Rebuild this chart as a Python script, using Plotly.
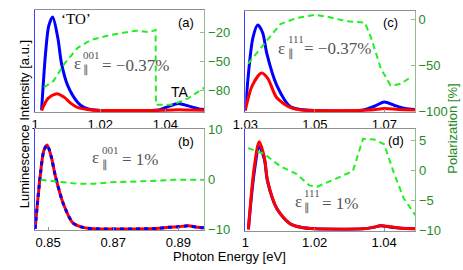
import plotly.graph_objects as go

# ---------------- data ----------------
# panel (a): eps001 = -0.37%
a_x_blue = [1.002, 1.0032, 1.0042, 1.0054, 1.007, 1.0081, 1.010, 1.0131, 1.015, 1.017, 1.02, 1.035, 1.038, 1.041, 1.044, 1.047, 1.050, 1.052]
a_blue = [0, 0.56, 0.84, 0.93, 0.72, 0.47, 0.25, 0.08, 0.03, 0.01, 0, 0, 0.005, 0.04, 0.07, 0.045, 0.018, 0.01]
a_x_red = [1.002, 1.004, 1.0067, 1.009, 1.011, 1.013, 1.016, 1.02, 1.04, 1.044, 1.048, 1.052]
a_red = [0, 0.12, 0.167, 0.13, 0.07, 0.03, 0.01, 0.0, 0.003, 0.006, 0.004, 0.003]
a_x_pol = [1.0027, 1.0057, 1.0091, 1.0131, 1.0171, 1.023, 1.031, 1.035, 1.037, 1.0371, 1.042, 1.047, 1.052]
a_pol = [-76.8, -70, -52, -36, -28, -23, -18.4, -20, -17.6, -94.7, -94.7, -88, -77]

# panel (c): eps111 = -0.37%
c_x_blue = [1.03, 1.0322, 1.0336, 1.035, 1.0362, 1.039, 1.0429, 1.046, 1.05, 1.064, 1.067, 1.07, 1.073, 1.076, 1.0788]
c_blue = [0, 0.73, 0.857, 0.78, 0.57, 0.257, 0.04, 0.01, 0, 0.005, 0.04, 0.085, 0.05, 0.02, 0.01]
c_x_red = [1.03, 1.032, 1.0347, 1.0365, 1.039, 1.0429, 1.046, 1.05, 1.066, 1.07, 1.074, 1.0788]
c_red = [0, 0.25, 0.375, 0.32, 0.13, 0.03, 0.005, 0, 0.005, 0.02, 0.01, 0.005]
c_x_pol = [1.0308, 1.0354, 1.0401, 1.0448, 1.05, 1.0541, 1.0588, 1.0644, 1.0662, 1.069, 1.0718, 1.0746, 1.078]
c_pol = [-48, -27, -5, 1.7, 5, 2.6, -1.7, -3.4, -20, -53, -71.7, -70, -61.7]

# panel (b): eps001 = 1%
b_x = [0.846, 0.8477, 0.8487, 0.8497, 0.851, 0.8522, 0.8547, 0.8576, 0.8601, 0.863, 0.883, 0.887, 0.890, 0.893, 0.896, 0.898]
b_int = [0, 0.566, 0.786, 0.842, 0.72, 0.535, 0.25, 0.06, 0.02, 0.003, 0.003, 0.015, 0.02, 0.03, 0.015, 0.01]
b_x_pol = [0.8477, 0.8505, 0.8592, 0.8642, 0.8692, 0.879, 0.8888, 0.898]
b_pol = [0, -0.2, -0.8, -0.8, -0.5, -0.3, 0, 0]

# panel (d): eps111 = 1%
d_x = [1.0009, 1.0025, 1.004, 1.0055, 1.0064, 1.0092, 1.0129, 1.016, 1.02, 1.034, 1.037, 1.039, 1.042, 1.045, 1.049]
d_blue = [0, 0.55, 0.825, 0.7, 0.48, 0.2, 0.056, 0.02, 0.005, 0.005, 0.02, 0.035, 0.02, 0.01, 0.005]
d_red = [0, 0.6, 0.876, 0.72, 0.49, 0.2, 0.056, 0.02, 0.005, 0.005, 0.02, 0.035, 0.025, 0.01, 0.005]
d_x_pol = [1.0008, 1.0054, 1.0101, 1.0148, 1.0185, 1.0208, 1.026, 1.031, 1.0339, 1.0371, 1.04, 1.0428, 1.0456, 1.049]
d_pol = [3.74, 2.8, 0.7, -0.6, -2.5, -2.7, -1.4, -0.1, 5.3, 5.2, 4.4, -0.4, -4.6, -7.5]

# tick values
a_xticks = [1, 1.02, 1.04]
c_xticks = [1.03, 1.05, 1.07]
b_xticks = [0.85, 0.87, 0.89]
d_xticks = [1, 1.02, 1.04]
a_pticks = [-20, -50, -80]
c_pticks = [0, -50, -100]
b_pticks = [10, 0, -10]
d_pticks = [5, 0, -5, -10]

# strain labels: (direction superscript, value text)
strain_labels = {"a": ("001", "= \u22120.37%"), "c": ("111", "= \u22120.37%"),
                 "b": ("001", "= 1%"), "d": ("111", "= 1%")}

# ---------------- styles ----------------
W, H = 463, 270
BLUE = "#0000ff"
RED = "#ff0000"
LIME = "#22ee22"
DKGREEN = "#1f8b1f"
SPINE_G = "#8fbf8f"
GRAY = "#909090"
SANS = "Liberation Sans, Arial, sans-serif"
SERIF = "Liberation Serif, Times New Roman, serif"


def px_x(p):
    return p / W


def px_y(p):
    return 1 - p / H


fig = go.Figure()

panels = [
    ("a", "x", "y", "y2", (22.7, 197), (3, 110.7)),
    ("c", "x2", "y3", "y4", (239, 413.5), (4, 110.7)),
    ("b", "x3", "y5", "y6", (22.7, 197), (129, 235.5)),
    ("d", "x4", "y7", "y8", (239, 414), (129, 236)),
]

lw = 3


def add_line(x, y, xa, ya, color, dash=None, width=lw, shape="spline"):
    fig.add_trace(go.Scatter(x=x, y=y, xaxis=xa, yaxis=ya, mode="lines",
                             line=dict(color=color, width=width, dash=dash, shape=shape, smoothing=0.8),
                             showlegend=False, hoverinfo="skip"))


add_line(a_x_blue, a_blue, "x", "y", BLUE)
add_line(a_x_red, a_red, "x", "y", RED)
add_line(a_x_pol, a_pol, "x", "y2", LIME, dash="6px,4px", width=2, shape="linear")
add_line(c_x_blue, c_blue, "x2", "y3", BLUE)
add_line(c_x_red, c_red, "x2", "y3", RED)
add_line(c_x_pol, c_pol, "x2", "y4", LIME, dash="6px,4px", width=2, shape="linear")
add_line(b_x, b_int, "x3", "y5", RED)
add_line(b_x, b_int, "x3", "y5", BLUE, dash="4px,4px")
add_line(b_x_pol, b_pol, "x3", "y6", LIME, dash="6px,4px", width=2, shape="linear")
add_line(d_x, d_blue, "x4", "y7", BLUE)
add_line(d_x, d_red, "x4", "y7", RED)
add_line(d_x_pol, d_pol, "x4", "y8", LIME, dash="6px,4px", width=2, shape="linear")

xranges = {"a": [1.0, 1.052], "c": [1.03, 1.0788], "b": [0.846, 0.898], "d": [1.0, 1.049]}
xticks = {"a": a_xticks, "c": c_xticks, "b": b_xticks, "d": d_xticks}
pranges = {"a": [-102, 3], "c": [-100.3, 9.4], "b": [-10.1, 10.1], "d": [-10.1, 6.9]}
pticks = {"a": a_pticks, "c": c_pticks, "b": b_pticks, "d": d_pticks}

layout = {}
for name, xa, yl, yr, xd, yd in panels:
    xkey = "xaxis" if xa == "x" else "xaxis" + xa[1:]
    ylkey = "yaxis" if yl == "y" else "yaxis" + yl[1:]
    yrkey = "yaxis" + yr[1:]
    dom_x = [px_x(xd[0]), px_x(xd[1])]
    dom_y = [px_y(yd[1]), px_y(yd[0])]
    layout[xkey] = dict(domain=dom_x, anchor=yl, range=xranges[name],
                        tickvals=xticks[name], ticktext=[("%g" % v) for v in xticks[name]],
                        showline=True, mirror=True, linecolor=GRAY, linewidth=1,
                        ticks="inside", ticklen=3, tickcolor=GRAY,
                        showgrid=False, zeroline=False,
                        tickfont=dict(family=SANS, size=13, color="black"))
    layout[ylkey] = dict(domain=dom_y, anchor=xa, range=[-0.015, 1.0],
                         showline=True, linecolor="#4040ff", linewidth=1,
                         showticklabels=False, ticks="", showgrid=False, zeroline=False)
    layout[yrkey] = dict(domain=dom_y, anchor=xa, overlaying=yl, side="right",
                         range=pranges[name], tickvals=pticks[name],
                         ticktext=[("%g" % v).replace("-", "\u2212") for v in pticks[name]],
                         showline=True, linecolor=SPINE_G, linewidth=1,
                         ticks="inside", ticklen=4, tickcolor=SPINE_G,
                         showgrid=False, zeroline=False,
                         tickfont=dict(family=SANS, size=13, color=DKGREEN))

annotations = []


def ann(xp, yp, text, size=13, color="black", family=SANS, angle=0, xanchor="center", align="center"):
    annotations.append(dict(x=px_x(xp), y=px_y(yp), xref="paper", yref="paper", text=text,
                            showarrow=False, font=dict(family=family, size=size, color=color),
                            textangle=angle, xanchor=xanchor, yanchor="middle", borderpad=0,
                            align=align))


ann(178, 16, "(a)", 13)
ann(388, 16, "(c)", 13)
ann(178, 142, "(b)", 13)
ann(394, 141, "(d)", 13)
ann(65, 13, "\u2018TO\u2019", 15, family=SERIF)
ann(172, 90, "TA", 14)

# strain labels, placed piecewise: epsilon, stacked sup/sub block, value
EPS = "#555555"
strain_pos = {
    # eps right edge, eps y, block y, value left, value y
    "a": (71, 60, 59, 91, 62),
    "c": (281, 44, 42, 298, 44),
    "b": (90, 159, 159, 111, 161),
    "d": (298, 205, 204, 317, 207),
}
for k, (sup, val) in strain_labels.items():
    ex, ey, by, vx, vy = strain_pos[k]
    ann(ex, ey, "\u03b5", 17, EPS, SERIF, xanchor="right")
    ann(ex + 0.5, by, sup + "<br>\u2225", 11, EPS, SERIF, xanchor="left", align="left")
    ann(vx, vy, val, 17, EPS, SERIF, xanchor="left")

ann(12, 124, "Luminescence Intensity [a.u.]", 13, "black", SANS, angle=-90)
ann(223, 263.5, "Photon Energy [eV]", 13, "black", SANS)
ann(452, 128, "Polarization [%]", 13, DKGREEN, SANS, angle=-90)

fig.update_layout(width=W, height=H, margin=dict(l=0, r=0, t=0, b=0, pad=0),
                  paper_bgcolor="white", plot_bgcolor="white",
                  showlegend=False, annotations=annotations, **layout)

fig.write_html("out.html", config={"displayModeBar": False},
               post_script="document.body.style.margin='0';document.body.style.padding='0';")
